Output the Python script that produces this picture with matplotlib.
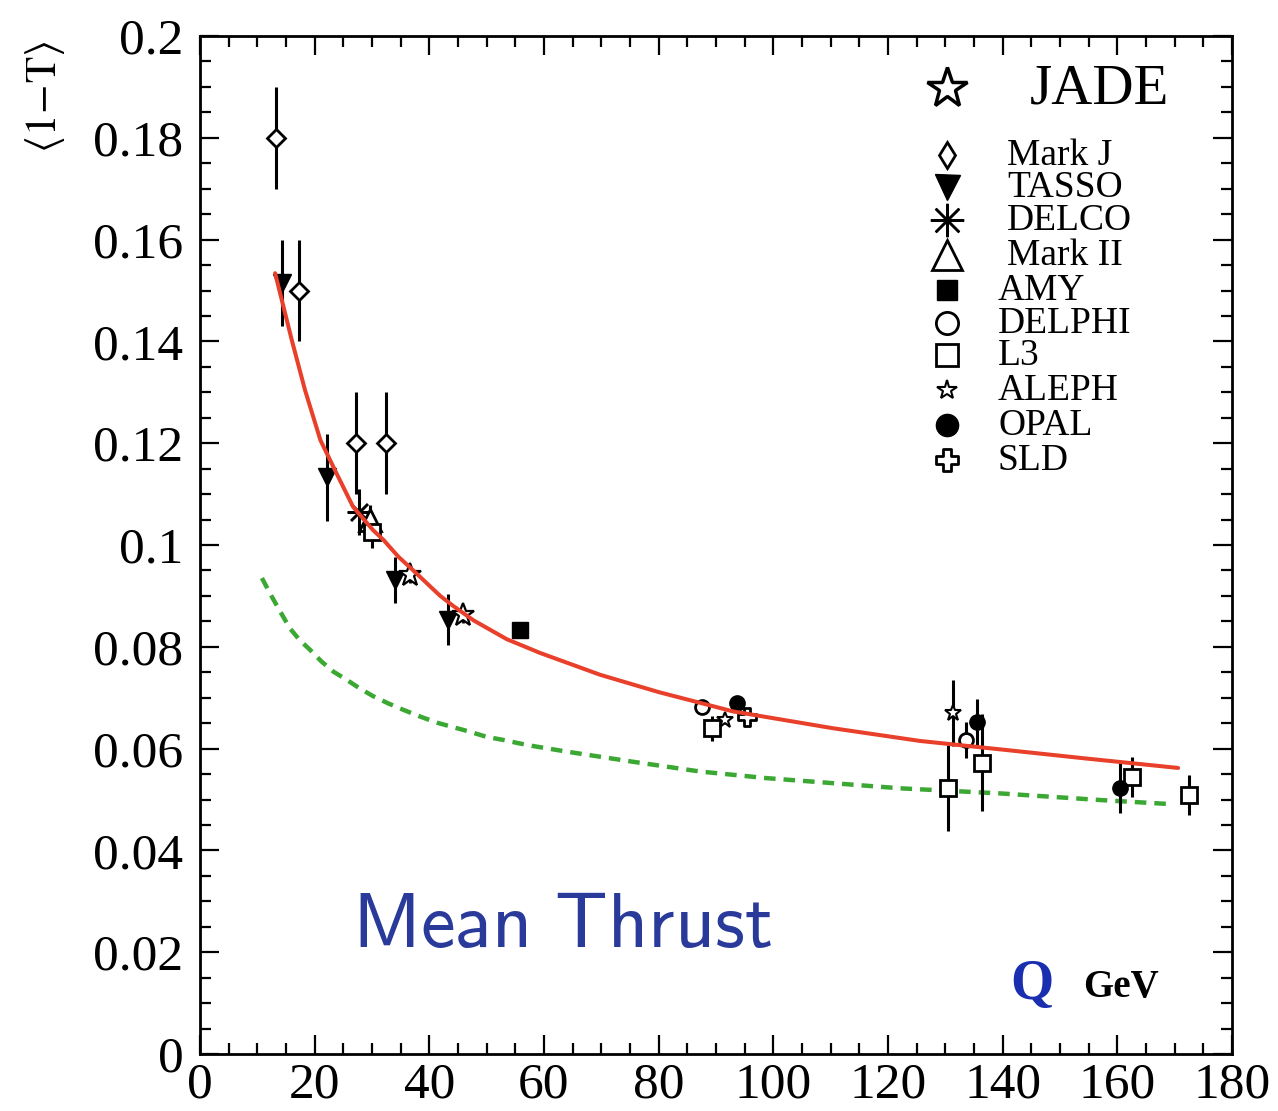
import matplotlib
matplotlib.use("Agg")
import matplotlib.pyplot as plt
from matplotlib.path import Path
from matplotlib.ticker import MultipleLocator

# ---------------- data ----------------
markj_q = [13.3, 17.3, 27.2, 32.4]
markj_v = [0.180, 0.150, 0.120, 0.120]
markj_e = [0.010, 0.010, 0.010, 0.010]

tasso_q = [14.3, 22.2, 34.0, 43.3]
tasso_v = [0.1515, 0.1133, 0.0931, 0.0853]
tasso_e = [0.0085, 0.0085, 0.0045, 0.0050]

delco_q = [27.8]
delco_v = [0.1065]
delco_e = [0.0045]

markii_q = [29.6]
markii_v = [0.1049]
markii_e = [0.0030]

amy_q = [55.8]
amy_v = [0.0833]
amy_e = [0.0010]

delphi_q = [87.6, 133.6]
delphi_v = [0.0682, 0.0617]
delphi_e = [0.0008, 0.0035]

l3_q = [30.0, 89.3, 130.4, 136.4, 162.6, 172.5]
l3_v = [0.1025, 0.0640, 0.0523, 0.0572, 0.0544, 0.0509]
l3_e = [0.0030, 0.0025, 0.0085, 0.0095, 0.0040, 0.0040]

aleph_q = [91.6, 131.4]
aleph_v = [0.0656, 0.0670]
aleph_e = [0.0008, 0.0065]

opal_q = [93.7, 135.6, 160.5]
opal_v = [0.0690, 0.0652, 0.0523]
opal_e = [0.0008, 0.0045, 0.0050]

sld_q = [95.4]
sld_v = [0.0662]
sld_e = [0.0012]

jade_q = [36.6, 45.9]
jade_v = [0.0941, 0.0862]
jade_e = [0.0015, 0.0015]

fit_q = [13.1, 16.0, 18.3, 21.0, 23.8, 26.7, 30.2, 32.0, 34.6, 37.2, 41.9, 44.2,
         47.7, 53.5, 59.3, 69.8, 80.0, 87.2, 93.0, 110.4, 125.6, 140.0, 155.0, 170.6]
fit_v = [0.1534, 0.1403, 0.1305, 0.1206, 0.1141, 0.1075, 0.1029, 0.1010, 0.0977,
         0.0950, 0.0900, 0.0880, 0.0852, 0.0815, 0.0788, 0.0745, 0.0711, 0.0690,
         0.0673, 0.0640, 0.0615, 0.0598, 0.0580, 0.0562]

pert_q = [10.8, 12.5, 14.0, 15.7, 17.4, 19.2, 21.2, 23.3, 25.6, 27.9, 30.2, 32.8,
          35.5, 38.4, 41.3, 44.2, 47.1, 50.0, 52.9, 55.8, 58.1, 64.0, 75.6, 87.2,
          98.8, 110.5, 122.1, 139.5, 157.0, 169.2]
pert_v = [0.0935, 0.0899, 0.0869, 0.0836, 0.0813, 0.0794, 0.0771, 0.0751, 0.0735,
          0.0718, 0.0703, 0.0689, 0.0676, 0.0663, 0.0651, 0.0642, 0.0633, 0.0623,
          0.0617, 0.0610, 0.0605, 0.0594, 0.0574, 0.0555, 0.0542, 0.0532, 0.0522,
          0.0512, 0.0499, 0.0491]

legend_labels = ["Mark J", "TASSO", "DELCO", "Mark II", "AMY", "DELPHI",
                 "L3", "ALEPH", "OPAL", "SLD"]

x_ticks = [0, 20, 40, 60, 80, 100, 120, 140, 160, 180]
y_ticks = [0, 0.02, 0.04, 0.06, 0.08, 0.1, 0.12, 0.14, 0.16, 0.18, 0.2]
y_ticklabels = ["0", "0.02", "0.04", "0.06", "0.08", "0.1", "0.12", "0.14",
                "0.16", "0.18", "0.2"]

# ---------------- style ----------------
serif = "Liberation Serif"
W, H = 1278, 1111
fig = plt.figure(figsize=(W / 100, H / 100), dpi=100)
ax = fig.add_axes([200 / W, 1 - 1054 / H, 1032 / W, 1018 / H])

# custom open plus (SLD)
a, b = 0.35, 1.0
plus_verts = [(-a, b), (a, b), (a, a), (b, a), (b, -a), (a, -a), (a, -b), (-a, -b),
              (-a, -a), (-b, -a), (-b, a), (-a, a), (-a, b)]
plus_marker = Path(plus_verts, closed=True)

ecol = "black"
specs = {
    "Mark J": dict(marker="D", ms=9, mfc="white", mec="black", mew=2.0),
    "TASSO": dict(marker="v", ms=13, mfc="black", mec="black", mew=1.0),
    "DELCO": dict(marker=(8, 2, 0), ms=17, mfc="black", mec="black", mew=1.8),
    "Mark II": dict(marker="^", ms=16, mfc="white", mec="black", mew=2.0),
    "AMY": dict(marker="s", ms=11, mfc="black", mec="black", mew=1.0),
    "DELPHI": dict(marker="o", ms=10, mfc="white", mec="black", mew=2.0),
    "L3": dict(marker="s", ms=11, mfc="white", mec="black", mew=2.0),
    "ALEPH": dict(marker="*", ms=12, mfc="white", mec="black", mew=1.5),
    "OPAL": dict(marker="o", ms=11, mfc="black", mec="black", mew=1.0),
    "SLD": dict(marker=plus_marker, ms=13, mfc="white", mec="black", mew=2.0),
}
series = {
    "Mark J": (markj_q, markj_v, markj_e),
    "TASSO": (tasso_q, tasso_v, tasso_e),
    "DELCO": (delco_q, delco_v, delco_e),
    "Mark II": (markii_q, markii_v, markii_e),
    "AMY": (amy_q, amy_v, amy_e),
    "DELPHI": (delphi_q, delphi_v, delphi_e),
    "L3": (l3_q, l3_v, l3_e),
    "ALEPH": (aleph_q, aleph_v, aleph_e),
    "OPAL": (opal_q, opal_v, opal_e),
    "SLD": (sld_q, sld_v, sld_e),
}

# curves
ax.plot(pert_q, pert_v, color="#3aa832", lw=3.2, ls=(0, (2.6, 1.8)),
        solid_joinstyle="round", zorder=2)
ax.plot(fit_q, fit_v, color="#e8402a", lw=2.9, solid_joinstyle="round",
        solid_capstyle="round", zorder=5)

for name, (q, v, e) in series.items():
    s = specs[name]
    ax.errorbar(q, v, yerr=e, fmt="none", ecolor=ecol, elinewidth=2.2, capsize=0, zorder=3)
    ax.plot(q, v, ls="none", zorder=4, **s)

# JADE data
ax.errorbar(jade_q, jade_v, yerr=jade_e, fmt="none", ecolor=ecol, elinewidth=2.0, zorder=3)
ax.plot(jade_q, jade_v, ls="none", marker="*", ms=17, mfc="white", mec="black", mew=1.6, zorder=4)

# axes formatting
ax.set_xlim(0, 180)
ax.set_ylim(0, 0.2)
ax.set_xticks(x_ticks)
ax.set_xticklabels([str(t) for t in x_ticks])
ax.set_yticks(y_ticks)
ax.set_yticklabels(y_ticklabels)
ax.xaxis.set_minor_locator(MultipleLocator(5))
ax.yaxis.set_minor_locator(MultipleLocator(0.005))
ax.tick_params(which="both", direction="in", top=True, right=True, width=1.6, colors="black")
ax.tick_params(which="major", length=14, labelsize=37)
ax.tick_params(axis="y", which="major", pad=12)
ax.tick_params(axis="x", which="major", pad=6)
ax.tick_params(which="minor", length=8)
for lab in ax.get_xticklabels() + ax.get_yticklabels():
    lab.set_fontfamily(serif)
for sp in ax.spines.values():
    sp.set_linewidth(2.0)

# y label
fig.text(45 / W, 1 - 97 / H, r"$\langle 1\!-\!\mathrm{T}\rangle$", rotation=90,
         ha="center", va="center", fontsize=31, math_fontfamily="stix")

# ---------------- legend (manual) ----------------
def axc(px, py):
    return ((px - 200) / 1032, (1054 - py) / 1018)

mx = 947
x, y = axc(mx, 88)
ax.plot([x], [y], transform=ax.transAxes, ls="none", marker="*", ms=30,
        mfc="white", mec="black", mew=2.5, clip_on=False, zorder=6)
tx, ty = axc(1030, 90)
ax.text(tx, ty, "JADE", transform=ax.transAxes, fontsize=41, family=serif,
        ha="left", va="center")

rows_y = [155, 187, 220, 255, 290, 323, 355, 390, 425, 460]
text_x = [1007, 1007, 1007, 1007, 998, 998, 998, 998, 998, 998]
leg_ms = {"Mark J": 13, "TASSO": 18, "DELCO": 24, "Mark II": 22, "AMY": 15,
          "DELPHI": 16, "L3": 16, "ALEPH": 15, "OPAL": 16, "SLD": 16}
for name, ry, rx in zip(legend_labels, rows_y, text_x):
    s = dict(specs[name])
    s["ms"] = leg_ms[name]
    if name == "Mark J":
        s["marker"] = "d"
    x, y = axc(mx, ry)
    ax.plot([x], [y], transform=ax.transAxes, ls="none", clip_on=False, zorder=6, **s)
    tx, ty = axc(rx, ry + 1)
    ax.text(tx, ty, name, transform=ax.transAxes, fontsize=27, family=serif,
            ha="left", va="center")

# annotations
x, y = axc(352, 925)
ax.text(x, y, r"$\mathsf{Mean\ Thrust}$", transform=ax.transAxes, fontsize=56,
        color="#2a3a9a", ha="left", va="center", math_fontfamily="cm")
x, y = axc(1010, 985)
ax.text(x, y, "Q", transform=ax.transAxes, fontsize=40, family=serif,
        fontweight="bold", color="#1a2eb0", ha="left", va="center")
x, y = axc(1083, 988)
ax.text(x, y, "GeV", transform=ax.transAxes, fontsize=28, family=serif,
        fontweight="bold", color="black", ha="left", va="center")

fig.savefig("out.png", dpi=100)
